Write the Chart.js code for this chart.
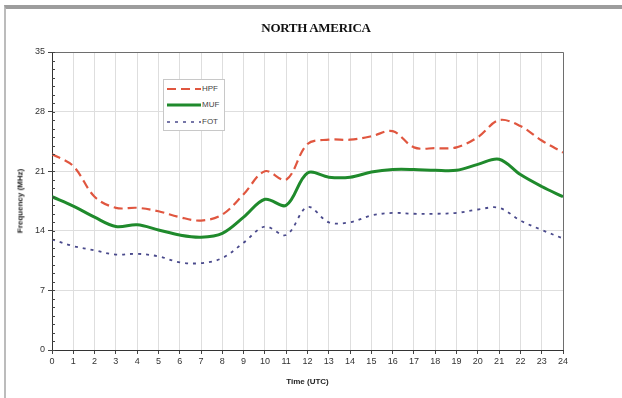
<!DOCTYPE html>
<html>
<head>
<meta charset="utf-8">
<script src="https://cdn.jsdelivr.net/npm/chart.js@4"></script>
<style>
  html, body { margin: 0; padding: 0; background: #fff; }
  body { width: 622px; height: 398px; position: relative; overflow: hidden; font-family: 'Liberation Sans', Arial, sans-serif; }
  .frame { position: absolute; left: 4px; top: 5px; right: -10px; bottom: -10px; border-top: 4px solid #9d9d9d; border-left: 2px solid #bcbcbc; }
  #wrap { position: absolute; left: 0; top: 0; width: 622px; height: 398px; }
  .title { position: absolute; top: 20px; left: 0; width: 632px; text-align: center; font: bold 13px 'Liberation Serif', 'Times New Roman', serif; color: #111; letter-spacing: -0.3px; }
  .xtitle { position: absolute; top: 377px; left: 52px; width: 511px; text-align: center; font: bold 8px 'Liberation Sans', Arial, sans-serif; color: #222; }
  .ytitle { position: absolute; left: 20px; top: 201px; transform: translate(-50%, -50%) rotate(-90deg); white-space: nowrap; font: bold 8px 'Liberation Sans', Arial, sans-serif; color: #222; }
  .legend { position: absolute; left: 163px; top: 79px; width: 60px; height: 50px; border: 1px solid #c8c8c8; background: #fff; font: 8px 'Liberation Sans', Arial, sans-serif; color: #444; }
  .legend div { position: absolute; left: 2px; height: 10px; line-height: 10px; }
  .legend svg { vertical-align: middle; }
</style>
</head>
<body>
<div class="frame"></div>
<div id="wrap"><canvas id="hfChart" width="622" height="398"></canvas></div>
<div class="title">NORTH AMERICA</div>
<div class="ytitle">Frequency (MHz)</div>
<div class="xtitle">Time (UTC)</div>
<div class="legend">
  <div style="top:4px"><svg width="36" height="6"><line x1="1" y1="3" x2="35" y2="3" stroke="#e0563f" stroke-width="2.2" stroke-dasharray="9,5"/></svg>HPF</div>
  <div style="top:20px"><svg width="36" height="6"><line x1="1" y1="3" x2="35" y2="3" stroke="#1f8a2c" stroke-width="3"/></svg>MUF</div>
  <div style="top:37px"><svg width="36" height="6"><line x1="1" y1="3" x2="35" y2="3" stroke="#4a4a8c" stroke-width="1.6" stroke-dasharray="3,5"/></svg>FOT</div>
</div>
<script>
const hours = [0, 1, 2, 3, 4, 5, 6, 7, 8, 9, 10, 11, 12, 13, 14, 15, 16, 17, 18, 19, 20, 21, 22, 23, 24];
const hpf = [23.0, 21.6, 18.0, 16.7, 16.7, 16.3, 15.6, 15.2, 15.9, 18.3, 21.0, 20.0, 24.2, 24.7, 24.7, 25.1, 25.7, 23.8, 23.7, 23.8, 25.0, 27.0, 26.3, 24.6, 23.2];
const muf = [18.0, 16.9, 15.6, 14.5, 14.7, 14.1, 13.5, 13.25, 13.7, 15.6, 17.7, 17.0, 20.8, 20.3, 20.3, 20.9, 21.2, 21.2, 21.1, 21.1, 21.8, 22.4, 20.6, 19.2, 18.0];
const fot = [13.0, 12.2, 11.7, 11.2, 11.3, 11.0, 10.3, 10.2, 10.8, 12.6, 14.5, 13.5, 16.8, 15.0, 15.0, 15.8, 16.1, 16.0, 16.0, 16.1, 16.5, 16.7, 15.2, 14.1, 13.1];
const yTicks = [0, 7, 14, 21, 28, 35];

const toPoints = vals => vals.map((v, i) => ({ x: hours[i], y: v }));

// plot frame on top/right plus minor ticks on the value axis
const framePlugin = {
    id: 'framePlugin',
    afterDraw(chart) {
        const { ctx, chartArea: a, scales } = chart;
        ctx.save();
        ctx.strokeStyle = '#6e6e6e';
        ctx.lineWidth = 1;
        ctx.beginPath();
        ctx.moveTo(a.left, a.top + 0.5);
        ctx.lineTo(a.right + 0.5, a.top + 0.5);
        ctx.lineTo(a.right + 0.5, a.bottom);
        ctx.stroke();
        ctx.strokeStyle = '#444';
        ctx.beginPath();
        for (let v = 0; v <= 35; v++) {
            const y = Math.round(scales.y.getPixelForValue(v)) + 0.5;
            ctx.moveTo(a.left, y);
            ctx.lineTo(a.left + 3, y);
        }
        ctx.stroke();
        ctx.restore();
    }
};

const ctx = document.getElementById('hfChart').getContext('2d');
new Chart(ctx, {
    type: 'line',
    data: {
        datasets: [{
            label: 'HPF',
            data: toPoints(hpf),
            borderColor: '#e0563f',
            borderWidth: 2.2,
            borderDash: [9, 5],
            pointRadius: 0,
            tension: 0.35
        }, {
            label: 'MUF',
            data: toPoints(muf),
            borderColor: '#1f8a2c',
            borderWidth: 3,
            pointRadius: 0,
            tension: 0.35
        }, {
            label: 'FOT',
            data: toPoints(fot),
            borderColor: '#4a4a8c',
            borderWidth: 1.8,
            borderDash: [3, 5],
            pointRadius: 0,
            tension: 0.35
        }]
    },
    options: {
        responsive: false,
        animation: false,
        layout: { padding: { top: 52, right: 59, bottom: 32, left: 18 } },
        plugins: {
            legend: { display: false },
            tooltip: { enabled: false }
        },
        scales: {
            x: {
                type: 'linear',
                min: 0,
                max: 24,
                afterFit: s => { s.height = 16; },
                ticks: {
                    stepSize: 1,
                    padding: 2,
                    maxRotation: 0,
                    autoSkip: false,
                    font: { family: "'Liberation Sans', Arial, sans-serif", size: 9 },
                    color: '#333'
                },
                grid: { color: '#dedede', tickColor: '#444', tickLength: 4 },
                border: { color: '#333', width: 1 }
            },
            y: {
                min: 0,
                max: 35,
                afterFit: s => { s.width = 34; },
                afterBuildTicks: s => { s.ticks = yTicks.map(v => ({ value: v })); },
                ticks: {
                    padding: 3,
                    font: { family: "'Liberation Sans', Arial, sans-serif", size: 9 },
                    color: '#333'
                },
                grid: { color: '#dedede', tickColor: '#444', tickLength: 4 },
                border: { color: '#333', width: 1 }
            }
        }
    },
    plugins: [framePlugin]
});
</script>
</body>
</html>
